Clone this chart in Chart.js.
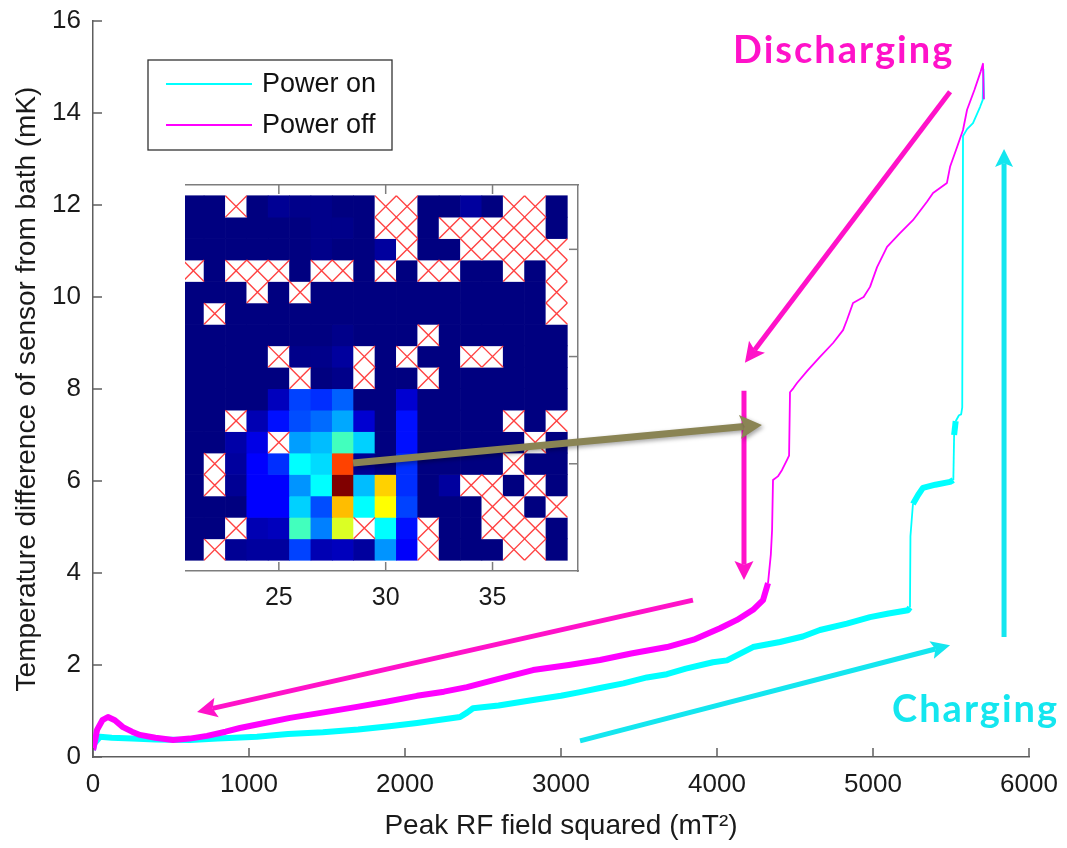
<!DOCTYPE html>
<html>
<head>
<meta charset="utf-8">
<script src="https://cdn.jsdelivr.net/npm/chart.js@4.4.0/dist/chart.umd.min.js"></script>
<style>
  html, body { margin: 0; padding: 0; background: #fff; }
  #wrap { position: relative; width: 1067px; height: 848px; overflow: hidden; }
  #insetClip { position: absolute; left: 185px; top: 175px; width: 420px; height: 440px; overflow: hidden; }
  #insetChart { position: absolute; left: -35px; top: 0; }
  #mainChart { position: absolute; left: 0; top: 0; }
</style>
</head>
<body>
<div id="wrap">
  <div id="insetClip"><canvas id="insetChart" width="440" height="440"></canvas></div>
  <canvas id="mainChart" width="1067" height="848"></canvas>
</div>
<script>
/* temperature vs field, charging sweep */
const powerOnX = [0, 10, 45, 120, 250, 400, 622, 800, 1051, 1250, 1474, 1700, 1900, 2077, 2250, 2353, 2400, 2436, 2600, 2821,
  3000, 3122, 3250, 3400, 3551, 3679, 3800, 3974, 4064, 4231, 4404, 4550, 4660, 4833, 4981, 5100, 5224, 5237, 5240, 5256,
  5290, 5320, 5400, 5494, 5515, 5520, 5530, 5551, 5565, 5572, 5577, 5603, 5641, 5686, 5703, 5708, 5712];
const powerOnY = [0.15, 0.3, 0.44, 0.42, 0.4, 0.38, 0.37, 0.4, 0.44, 0.5, 0.54, 0.6, 0.67, 0.74, 0.82, 0.87, 0.97, 1.06, 1.12, 1.24,
  1.33, 1.41, 1.5, 1.6, 1.73, 1.8, 1.92, 2.06, 2.1, 2.39, 2.5, 2.62, 2.76, 2.9, 3.04, 3.12, 3.19, 3.25, 4.8, 5.5,
  5.7, 5.85, 5.92, 5.98, 6.02, 7.0, 7.3, 7.43, 7.45, 7.6, 13.5, 13.65, 13.78, 14.13, 14.28, 14.95, 14.3];

/* discharging sweep */
const powerOffX = [0, 10, 26, 60, 96, 140, 192, 250, 301, 400, 513, 620, 731, 850, 942, 1100, 1263, 1480, 1692, 1880,
  2077, 2250, 2397, 2600, 2821, 3050, 3250, 3450, 3679, 3850, 4019, 4128, 4231, 4295, 4327, 4345, 4353, 4359, 4390, 4417,
  4449, 4462, 4468, 4490, 4513, 4580, 4660, 4744, 4808, 4833, 4872, 4940, 4981, 5026, 5090, 5173, 5256, 5346, 5385, 5474,
  5494, 5539, 5577, 5603, 5650, 5690, 5705, 5710];
const powerOffY = [0.15, 0.3, 0.59, 0.8, 0.87, 0.8, 0.65, 0.55, 0.48, 0.42, 0.37, 0.4, 0.46, 0.55, 0.63, 0.74, 0.85, 0.97, 1.09, 1.2,
  1.33, 1.42, 1.52, 1.7, 1.89, 2.0, 2.11, 2.25, 2.39, 2.55, 2.8, 2.98, 3.2, 3.41, 3.78, 4.4, 4.93, 6.02, 6.1, 6.24,
  6.46, 6.55, 7.93, 8.02, 8.13, 8.4, 8.7, 9.0, 9.28, 9.5, 9.87, 10.0, 10.22, 10.65, 11.09, 11.39, 11.67, 12.07, 12.26, 12.48,
  12.83, 13.26, 13.63, 14.07, 14.5, 14.9, 15.07, 14.3];

const seriesLabels = ["Power on", "Power off"];
const xTitle = "Peak RF field squared (mT²)";
const yTitle = "Temperature difference of sensor from bath (mK)";

/* inset map: columns x 21..38, rows y 3..19, null = cell left out */
const mapCols = [21, 22, 23, 24, 25, 26, 27, 28, 29, 30, 31, 32, 33, 34, 35, 36, 37, 38];
const mapRows = [3, 4, 5, 6, 7, 8, 9, 10, 11, 12, 13, 14, 15, 16, 17, 18, 19];
const X = null;
const mapValues = [
  [0, 0, X, 0, 0.02, 0.01, 0.01, 0, 0, X, X, 0, 0, 0.03, 0, X, X, 0],
  [0, 0, 0, 0, 0, 0, 0.01, 0.01, 0, X, X, 0, X, X, X, X, X, 0],
  [0, 0, 0, 0, 0, 0, 0.01, 0, 0, 0.03, X, 0, 0, X, X, X, X, X],
  [X, 0, X, X, X, 0, X, X, 0, X, 0, X, X, 0, 0, X, 0, X],
  [0, 0, 0, X, 0, X, 0, 0, 0, 0, 0, 0, 0, 0, 0, 0, 0, X],
  [0, X, 0, 0, 0, 0, 0, 0, 0, 0, 0, 0, 0, 0, 0, 0, 0, X],
  [0, 0, 0, 0, 0, 0, 0, 0.01, 0, 0, 0, X, 0, 0, 0, 0, 0, 0],
  [0, 0, 0, 0, X, 0.01, 0.01, 0.03, X, 0, X, 0, 0, X, X, 0, 0, 0],
  [0, 0, 0, 0, 0, X, 0, 0.01, X, 0, 0, X, 0, 0, 0, 0, 0, 0],
  [0, 0, 0, 0, 0.06, 0.19, 0.17, 0.22, 0, 0, 0.08, 0, 0, 0, 0, 0, 0, 0],
  [0, 0, X, 0.05, 0.14, 0.2, 0.23, 0.29, 0.08, 0, 0.14, 0, 0, 0, 0, X, 0, X],
  [0, 0, 0.04, 0.1, X, 0.28, 0.31, 0.44, 0.33, 0, 0.14, 0, 0, 0, 0, 0, X, 0],
  [0, X, 0.03, 0.125, 0.17, 0.375, 0.34, 0.81, 0.02, 0, 0.17, 0, 0, 0, 0, X, 0, 0],
  [0, X, 0.02, 0.125, 0.125, 0.27, 0.375, 1.0, 0.31, 0.67, 0.17, 0, 0.03, X, X, 0, X, 0],
  [0, 0, 0, 0.125, 0.125, 0.33, 0.2, 0.69, 0.375, 0.625, 0.19, 0, 0, 0, X, X, 0, X],
  [0, 0, X, 0.05, 0.06, 0.44, 0.25, 0.59, X, 0.375, 0.14, X, 0, 0, X, X, X, 0],
  [0, X, 0.02, 0.03, 0.03, 0.19, 0.05, 0.06, 0.03, 0.27, 0.12, X, 0, 0, 0, X, X, 0]
];
const mapXTicks = [20, 25, 30, 35];
const mapYTicks = [5, 10, 15];

const PINK = "#ff12c9";
const CYAN = "#14e6ef";
const OLIVE = "#8a8454";

/* arrows and captions, in data units of the main axes */
const arrows = [
  { from: [5494, 14.46], to: [4179, 8.57], color: PINK, w: 5, head: 20, hw: 20 },
  { from: [4173, 7.96], to: [4173, 3.85], color: PINK, w: 5, head: 19, hw: 19 },
  { from: [3846, 3.41], to: [667, 0.98], color: PINK, w: 5, head: 20, hw: 20 },
  { from: [3122, 0.35], to: [5494, 2.43], color: CYAN, w: 5, head: 19, hw: 18 },
  { from: [5840, 2.61], to: [5840, 13.22], color: CYAN, w: 5, head: 18, hw: 18 },
  { from: [1667, 6.39], to: [4288, 7.22], color: OLIVE, w: 7, head: 22, hw: 24, shadow: true }
];
const captions = [
  { text: "Discharging", at: [4103, 15.09], color: PINK },
  { text: "Charging", at: [5122, 0.76], color: CYAN }
];

function jet(v) {
  const c = t => Math.round(255 * Math.max(0, Math.min(1, 1.5 - Math.abs(4 * v - t))));
  return `rgb(${c(3)},${c(2)},${c(1)})`;
}

function drawArrow(ctx, x0, y0, x1, y1, a) {
  const ang = Math.atan2(y1 - y0, x1 - x0);
  const cos = Math.cos(ang), sin = Math.sin(ang);
  const bx = x1 - cos * a.head, by = y1 - sin * a.head;
  const nx = x1 - cos * a.head * 0.8, ny = y1 - sin * a.head * 0.8;
  ctx.save();
  if (a.shadow) {
    ctx.shadowColor = "rgba(0,0,0,0.35)";
    ctx.shadowBlur = 4;
    ctx.shadowOffsetX = 2;
    ctx.shadowOffsetY = 2;
  }
  ctx.strokeStyle = a.color;
  ctx.fillStyle = a.color;
  ctx.lineWidth = a.w;
  ctx.beginPath();
  ctx.moveTo(x0, y0);
  ctx.lineTo(nx, ny);
  ctx.stroke();
  ctx.beginPath();
  ctx.moveTo(x1, y1);
  ctx.lineTo(bx + sin * a.hw / 2, by - cos * a.hw / 2);
  ctx.lineTo(nx, ny);
  ctx.lineTo(bx - sin * a.hw / 2, by + cos * a.hw / 2);
  ctx.closePath();
  ctx.fill();
  ctx.restore();
}

/* ticks point into the plot */
function inwardTicks(len, color) {
  return {
    id: "inwardTicks",
    afterDraw(chart) {
      const ctx = chart.ctx;
      ctx.save();
      ctx.strokeStyle = color;
      ctx.lineWidth = 1.5;
      Object.values(chart.scales).forEach(s => {
        s.ticks.forEach(t => {
          const p = s.getPixelForValue(t.value);
          ctx.beginPath();
          if (s.position === "bottom") { ctx.moveTo(p, s.top); ctx.lineTo(p, s.top - len); }
          else if (s.position === "top") { ctx.moveTo(p, s.bottom); ctx.lineTo(p, s.bottom + len); }
          else if (s.position === "left") { ctx.moveTo(s.right, p); ctx.lineTo(s.right + len, p); }
          else { ctx.moveTo(s.left, p); ctx.lineTo(s.left - len, p); }
          ctx.stroke();
        });
      });
      ctx.restore();
    }
  };
}

/* ---------- inset map ---------- */
const cellDatasets = mapRows.map((rowY, r) => ({
  type: "bar",
  data: mapCols.map(x => ({ x, y: [rowY - 0.5, rowY + 0.5] })),
  backgroundColor: mapValues[r].map(v => v === null ? "#ffffff" : jet(v)),
  borderWidth: 0,
  barPercentage: 1,
  categoryPercentage: 1,
  grouped: false
}));

const crossPoints = [];
mapRows.forEach((rowY, r) => {
  mapCols.forEach((x, c) => {
    if (mapValues[r][c] === null) crossPoints.push({ x, y: rowY });
  });
});

new Chart(document.getElementById("insetChart"), {
  type: "bar",
  data: {
    datasets: [
      {
        type: "scatter",
        data: crossPoints,
        order: -1,
        pointStyle: "crossRot",
        pointRadius: ctx => {
          const s = ctx.chart.scales.x;
          return Math.abs(s.getPixelForValue(1) - s.getPixelForValue(0)) * Math.SQRT1_2;
        },
        pointBorderColor: "rgba(255,45,45,0.9)",
        pointBorderWidth: 1.4,
        pointBackgroundColor: "rgba(0,0,0,0)",
        showLine: false
      },
      ...cellDatasets
    ]
  },
  options: {
    responsive: false,
    animation: false,
    events: [],
    layout: { padding: { left: 22, right: 12, top: 10, bottom: 0 } },
    plugins: { legend: { display: false }, tooltip: { enabled: false } },
    scales: {
      x: {
        type: "linear", position: "bottom", min: 20, max: 39, offset: false,
        afterBuildTicks: s => { s.ticks = mapXTicks.map(v => ({ value: v })); },
        afterFit: s => { s.height = 44; },
        grid: { display: false },
        border: { display: true, color: "#7d7d7d", width: 1.5 },
        ticks: { autoSkip: false, maxRotation: 0, padding: 4, color: "#1a1a1a",
                 font: { family: "'Liberation Sans', Arial, sans-serif", size: 25 } }
      },
      x2: {
        type: "linear", position: "top", min: 20, max: 39, offset: false,
        afterBuildTicks: s => { s.ticks = mapXTicks.map(v => ({ value: v })); },
        afterFit: s => { s.height = 0; },
        grid: { display: false },
        border: { display: true, color: "#7d7d7d", width: 1.5 },
        ticks: { display: false }
      },
      y: {
        type: "linear", position: "right", min: 2, max: 20, reverse: true,
        afterBuildTicks: s => { s.ticks = mapYTicks.map(v => ({ value: v })); },
        afterFit: s => { s.width = 0; },
        grid: { display: false },
        border: { display: true, color: "#7d7d7d", width: 1.5 },
        ticks: { display: false }
      }
    }
  },
  plugins: [inwardTicks(9, "#7d7d7d")]
});

/* ---------- main plot ---------- */
function bandWidth(xs, ys, cutoff) {
  return ctx => {
    const i = ctx.p0DataIndex, j = ctx.p1DataIndex;
    const steep = Math.abs(ys[j] - ys[i]) > 0.5;
    return (xs[j] <= cutoff && !steep) ? 6 : 1.8;
  };
}

const annotate = {
  id: "annotate",
  afterDatasetsDraw(chart) {
    const { ctx, scales: { x, y } } = chart;
    arrows.forEach(a => {
      drawArrow(ctx,
        x.getPixelForValue(a.from[0]), y.getPixelForValue(a.from[1]),
        x.getPixelForValue(a.to[0]), y.getPixelForValue(a.to[1]), a);
    });
    ctx.save();
    ctx.font = "bold 38px Lato, 'Open Sans', sans-serif";
    if ("letterSpacing" in ctx) ctx.letterSpacing = "2px";
    ctx.textBaseline = "alphabetic";
    ctx.textAlign = "left";
    captions.forEach(c => {
      ctx.fillStyle = c.color;
      ctx.fillText(c.text, x.getPixelForValue(c.at[0]), y.getPixelForValue(c.at[1]));
    });
    ctx.restore();
  },
  afterDraw(chart) {
    // legend box in the upper left of the plot
    const ctx = chart.ctx;
    const bx = 148, by = 60, bw = 244, bh = 90;
    ctx.save();
    ctx.fillStyle = "#fff";
    ctx.fillRect(bx, by, bw, bh);
    ctx.strokeStyle = "#333";
    ctx.lineWidth = 1.3;
    ctx.strokeRect(bx, by, bw, bh);
    ctx.font = "27px 'Liberation Sans', Arial, sans-serif";
    ctx.textBaseline = "middle";
    chart.data.datasets.forEach((ds, i) => {
      const ly = by + 24 + i * 41;
      ctx.strokeStyle = ds.borderColor;
      ctx.lineWidth = 2;
      ctx.beginPath();
      ctx.moveTo(bx + 18, ly);
      ctx.lineTo(bx + 104, ly);
      ctx.stroke();
      ctx.fillStyle = "#111";
      ctx.fillText(ds.label, bx + 114, ly + 1);
    });
    ctx.restore();
  }
};

const tickFont = { family: "'Liberation Sans', Arial, sans-serif", size: 26 };
const titleFont = { family: "'Liberation Sans', Arial, sans-serif", size: 28 };

new Chart(document.getElementById("mainChart"), {
  type: "line",
  data: {
    datasets: [
      {
        label: seriesLabels[0],
        data: powerOnX.map((x, i) => ({ x, y: powerOnY[i] })),
        borderColor: "#00ffff",
        borderWidth: 2,
        pointRadius: 0,
        tension: 0,
        order: 1,
        borderJoinStyle: "round",
        segment: { borderWidth: bandWidth(powerOnX, powerOnY, 5530) }
      },
      {
        label: seriesLabels[1],
        data: powerOffX.map((x, i) => ({ x, y: powerOffY[i] })),
        borderColor: "#ff00ff",
        borderWidth: 2,
        pointRadius: 0,
        tension: 0,
        order: 0,
        borderJoinStyle: "round",
        segment: { borderWidth: bandWidth(powerOffX, powerOffY, 4330) }
      }
    ]
  },
  options: {
    responsive: false,
    animation: false,
    events: [],
    layout: { padding: { left: 0, right: 38, top: 21, bottom: 0 } },
    plugins: { legend: { display: false }, tooltip: { enabled: false } },
    scales: {
      x: {
        type: "linear", min: 0, max: 6000,
        afterFit: s => { s.height = 91; },
        grid: { display: false },
        border: { display: true, color: "#5e5e5e", width: 1.5 },
        ticks: { stepSize: 1000, padding: 4, color: "#1a1a1a", maxRotation: 0, font: tickFont,
                 callback: v => String(v) },
        title: { display: true, text: xTitle, color: "#1a1a1a", font: titleFont, padding: { top: 0, bottom: 5 } }
      },
      y: {
        type: "linear", min: 0, max: 16,
        afterFit: s => { s.width = 93; },
        grid: { display: false },
        border: { display: true, color: "#5e5e5e", width: 1.5 },
        ticks: { stepSize: 2, padding: 4, color: "#1a1a1a", font: tickFont, callback: v => String(v) },
        title: { display: true, text: yTitle, color: "#1a1a1a", font: titleFont, padding: { top: 10, bottom: 0 } }
      }
    }
  },
  plugins: [annotate, inwardTicks(9, "#5e5e5e")]
});
</script>
</body>
</html>
